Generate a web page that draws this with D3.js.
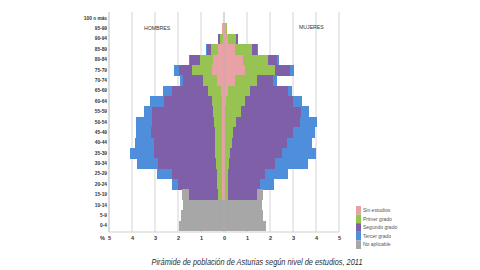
<!DOCTYPE html>
<html>
<head>
<meta charset="utf-8">
<script src="https://cdn.jsdelivr.net/npm/d3@7"></script>
<style>
    body { margin: 0; background: #fff; }
    #chart text { font-family: "Liberation Sans", Arial, sans-serif; }
</style>
</head>
<body>
<div id="chart"></div>
<script>
const ageGroups = ["0-4", "5-9", "10-14", "15-19", "20-24", "25-29", "30-34", "35-39", "40-44", "45-49",
    "50-54", "55-59", "60-64", "65-69", "70-74", "75-79", "80-84", "85-89", "90-94", "95-99", "100 o más"];

const categories = ["Sin estudios", "Primer grado", "Segundo grado", "Tercer grado", "No aplicable"];
const colors = ["#e8a2a6", "#96c352", "#7f60a8", "#4f8edb", "#a7a7a7"];

const xTicks = [-5, -4, -3, -2, -1, 0, 1, 2, 3, 4, 5];

// hombres, % of total population, one value per age group (0-4 ... 100 o más)
const menSinEstudios  = [0, 0, 0, .08, .10, .10, .10, .10, .10, .10, .07, .07, .10, .14, .32, .53, .46, .25, .06, .07, .01];
const menPrimerGrado  = [0, 0, 0, .17, .20, .22, .26, .29, .29, .29, .38, .39, .43, .54, .58, .87, .58, .32, .12, .01, 0];
const menSegundoGrado = [0, 0, 0, 1.26, 1.70, 1.96, 2.49, 2.67, 2.67, 2.80, 2.70, 2.68, 2.10, 1.57, .87, .55, .43, .19, .07, 0, 0];
const menTercerGrado  = [0, 0, 0, 0, .24, .65, .94, 1.04, .80, .64, .68, .36, .58, .39, .14, .22, .05, .02, .01, 0, 0];
const menNoAplicable  = [1.94, 1.87, 1.80, .33, 0, 0, 0, 0, 0, 0, 0, 0, 0, 0, 0, 0, 0, 0, 0, 0, 0];

// mujeres
const womenSinEstudios  = [0, 0, 0, .03, .03, .03, .03, .04, .04, .04, .04, .05, .08, .19, .48, .91, .84, .48, .19, .10, .02];
const womenPrimerGrado  = [0, 0, 0, .16, .16, .16, .20, .22, .30, .37, .50, .67, .83, .94, .95, 1.30, 1.09, .72, .33, .03, 0];
const womenSegundoGrado = [0, 0, 0, 1.23, 1.39, 1.60, 1.99, 2.25, 2.39, 2.60, 2.76, 2.61, 2.10, 1.67, .72, .65, .36, .24, .07, 0, 0];
const womenTercerGrado  = [0, 0, 0, 0, .58, 1.01, 1.45, 1.50, 1.09, .95, .73, .36, .36, .14, .17, .17, .09, .02, .01, 0, 0];
const womenNoAplicable  = [1.83, 1.71, 1.64, .29, 0, 0, 0, 0, 0, 0, 0, 0, 0, 0, 0, 0, 0, 0, 0, 0, 0];

const menSeries = [menSinEstudios, menPrimerGrado, menSegundoGrado, menTercerGrado, menNoAplicable];
const womenSeries = [womenSinEstudios, womenPrimerGrado, womenSegundoGrado, womenTercerGrado, womenNoAplicable];

function buildRows(series) {
    return ageGroups.map((age, i) => {
        const row = { age: age };
        categories.forEach((c, k) => { row[c] = series[k][i]; });
        return row;
    });
}

function renderChart() {
    const width = 480;
    const height = 270;

    const svg = d3.select("#chart")
        .append("svg")
        .attr("width", width)
        .attr("height", height);

    const xScale = d3.scaleLinear()
        .domain([-5, 5])
        .range([109, 339]);

    const yScale = d3.scaleBand()
        .domain(ageGroups.slice().reverse())
        .range([13, 231])
        .padding(0);

    // gridlines
    svg.append("g")
        .selectAll("line")
        .data(xTicks)
        .enter()
        .append("line")
        .attr("x1", d => xScale(d))
        .attr("x2", d => xScale(d))
        .attr("y1", 12)
        .attr("y2", 232)
        .attr("stroke", "#d4d4d4")
        .attr("stroke-width", 1);

    const stack = d3.stack().keys(categories);
    const sides = [
        { data: stack(buildRows(menSeries)), sign: -1 },
        { data: stack(buildRows(womenSeries)), sign: 1 }
    ];

    sides.forEach(side => {
        svg.append("g")
            .selectAll("g")
            .data(side.data)
            .enter()
            .append("g")
            .attr("fill", (d, i) => colors[i])
            .selectAll("rect")
            .data(d => d)
            .enter()
            .append("rect")
            .attr("x", d => side.sign < 0 ? xScale(-d[1]) : xScale(d[0]))
            .attr("width", d => Math.abs(xScale(d[1]) - xScale(d[0])))
            .attr("y", d => yScale(d.data.age))
            .attr("height", yScale.bandwidth() + 0.3)
            .attr("shape-rendering", "crispEdges");
    });

    // zero line and axis lines
    svg.append("line")
        .attr("x1", xScale(0)).attr("x2", xScale(0))
        .attr("y1", 12).attr("y2", 232)
        .attr("stroke", "#b0b0b0").attr("stroke-width", 0.8).attr("opacity", 0.7);
    svg.append("line")
        .attr("x1", 109).attr("x2", 339)
        .attr("y1", 232).attr("y2", 232)
        .attr("stroke", "#cfcfcf");

    // x axis labels
    const xAxis = d3.axisBottom(xScale)
        .tickValues(xTicks)
        .tickSize(0)
        .tickPadding(3)
        .tickFormat(d => Math.abs(d));
    const gx = svg.append("g")
        .attr("transform", "translate(0,233)")
        .call(xAxis);
    gx.select(".domain").remove();
    gx.selectAll("text")
        .attr("font-size", 5.5)
        .attr("font-weight", "bold")
        .attr("fill", "#333");

    svg.append("text")
        .attr("x", 100).attr("y", 240)
        .attr("font-size", 5.5).attr("font-weight", "bold").attr("fill", "#333")
        .text("%");

    // y axis labels
    const yAxis = d3.axisLeft(yScale).tickSize(0).tickPadding(2);
    const gy = svg.append("g")
        .attr("transform", "translate(109,0)")
        .call(yAxis);
    gy.select(".domain").remove();
    gy.selectAll("text")
        .attr("font-size", 4.8)
        .attr("font-weight", "bold")
        .attr("fill", "#333");

    svg.append("line")
        .attr("x1", 109).attr("x2", 109)
        .attr("y1", 12).attr("y2", 232)
        .attr("stroke", "#cfcfcf");

    svg.append("text")
        .attr("x", 144).attr("y", 30)
        .attr("font-size", 5.2).attr("fill", "#333")
        .text("HOMBRES");
    svg.append("text")
        .attr("x", 299).attr("y", 28.5)
        .attr("font-size", 5.2).attr("fill", "#333")
        .text("MUJERES");

    // legend
    const legend = svg.append("g")
        .attr("transform", "translate(356,206)");
    const items = legend.selectAll("g")
        .data(categories)
        .enter()
        .append("g")
        .attr("transform", (d, i) => `translate(0,${i * 8.6})`);
    items.append("rect")
        .attr("width", 5)
        .attr("height", 8.6)
        .attr("fill", (d, i) => colors[i]);
    items.append("text")
        .attr("x", 7)
        .attr("y", 6)
        .attr("font-size", 5)
        .attr("fill", "#555")
        .text(d => d);

    svg.append("text")
        .attr("x", 257)
        .attr("y", 265)
        .attr("text-anchor", "middle")
        .attr("font-size", 8.2)
        .attr("font-style", "italic")
        .attr("fill", "#2e2e2e")
        .attr("textLength", 211)
        .attr("lengthAdjust", "spacingAndGlyphs")
        .text("Pirámide de población de Asturias según nivel de estudios, 2011");
}

document.addEventListener("DOMContentLoaded", renderChart);
</script>
</body>
</html>
